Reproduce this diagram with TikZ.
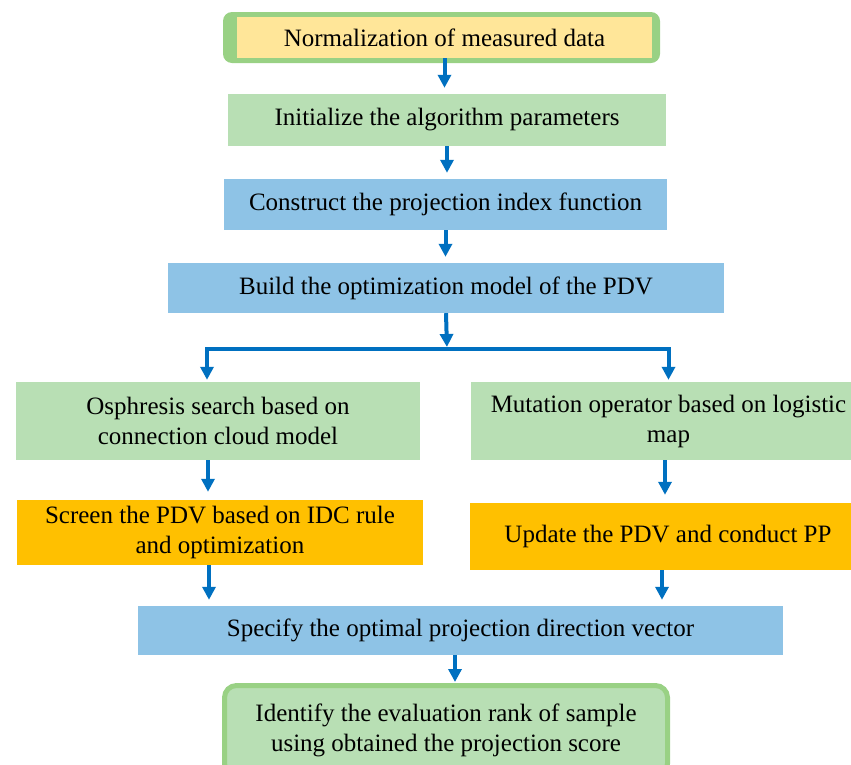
\documentclass[tikz,border=0pt]{standalone}
\usepackage{xcolor}
\usepackage{fontspec}
\setmainfont{Liberation Serif}
\usetikzlibrary{
		arrows.meta,
		calc,
		positioning
	}
\definecolor{boxyellow}{HTML}{FFE699}
\definecolor{boxgreen}{HTML}{B8DFB4}
\definecolor{rimgreen}{HTML}{99D184}
\definecolor{boxblue}{HTML}{8EC3E6}
\definecolor{boxorange}{HTML}{FFC000}
\definecolor{arrowblue}{HTML}{0070C0}
\tikzset{
		>={Triangle[width=13pt,length=13pt]},
		stepbox/.style={inner sep=0pt, align=center, font=\fontsize{25}{30}\selectfont},
		greenbox/.style={stepbox, fill=boxgreen},
		bluebox/.style={stepbox, fill=boxblue},
		orangebox/.style={stepbox, fill=boxorange},
		flow/.style={->, draw=arrowblue, line width=4pt, shorten >=6pt}
	}

\begin{document}
\begin{tikzpicture}[x=1pt,y=-1pt]
          \useasboundingbox (0,0) rectangle (851,764);
          \clip (0,0) rectangle (851,764);

          \fill[rimgreen, rounded corners=9pt] (223,12) rectangle (660,63);
          \node[stepbox, fill=boxyellow, minimum width=415pt, minimum height=41pt] (norm) at (444.5,37.5) {Normalization of measured data};
          \node[greenbox, minimum width=438pt, minimum height=52pt] (init) at (447,120) {Initialize the algorithm parameters};
          \node[bluebox, minimum width=443pt, minimum height=51pt] (constr) at (445.5,204.5) {Construct the projection index function};
          \node[bluebox, minimum width=556pt, minimum height=50pt] (build) at (446,288) {Build the optimization model of the PDV};

          \node[greenbox, minimum width=404pt, minimum height=78pt] (osph) at (218,421) {Osphresis search based on\\connection cloud model};
          \node[greenbox, minimum width=395pt, minimum height=78pt] (mut) at (668.5,421) {Mutation operator based on logistic\\map};
          \node[orangebox, minimum width=406pt, minimum height=65pt] (screen) at (220,532.5) {Screen the PDV based on IDC rule\\and optimization};
          \node[orangebox, minimum width=396pt, minimum height=67pt] (update) at (668,536.5) {Update the PDV and conduct PP};

          \node[bluebox, minimum width=645pt, minimum height=49pt] (specify) at (460.5,630.5) {Specify the optimal projection direction vector};
          \node[greenbox, draw=rimgreen, line width=5pt, rounded corners=12pt, minimum width=443pt, minimum height=90pt] (ident) at (446,730.5) {Identify the evaluation rank of sample\\using obtained the projection score};

          \coordinate (split) at (447,349);

          \draw[flow] (norm.south) -- (norm.south |- init.north);
          \draw[flow] (init.south) -- (init.south |- constr.north);
          \draw[flow] (constr.south) -- (constr.south |- build.north);
          \draw[flow, shorten >=2pt] (build.south) -- (split);
          \draw[flow, shorten >=2pt] (split) -| ([xshift=-11pt]osph.north);
          \draw[flow, shorten >=2pt] (split) -| (mut.north);
          \draw[flow, shorten >=8pt] ([xshift=-10pt]osph.south) -- ([xshift=-10pt]osph.south |- screen.north);
          \draw[flow, shorten >=8pt] ([xshift=-3.5pt]mut.south) -- ([xshift=-3.5pt]mut.south |- update.north);
          \draw[flow] ([xshift=-11pt]screen.south) -- ([xshift=-11pt]screen.south |- specify.north);
          \draw[flow] ([xshift=-6pt]update.south) -- ([xshift=-6pt]update.south |- specify.north);
          \draw[flow, shorten >=1pt] ([xshift=-5.5pt]specify.south) -- ([xshift=-5.5pt]specify.south |- ident.north);

          \end{tikzpicture}
\end{document}
